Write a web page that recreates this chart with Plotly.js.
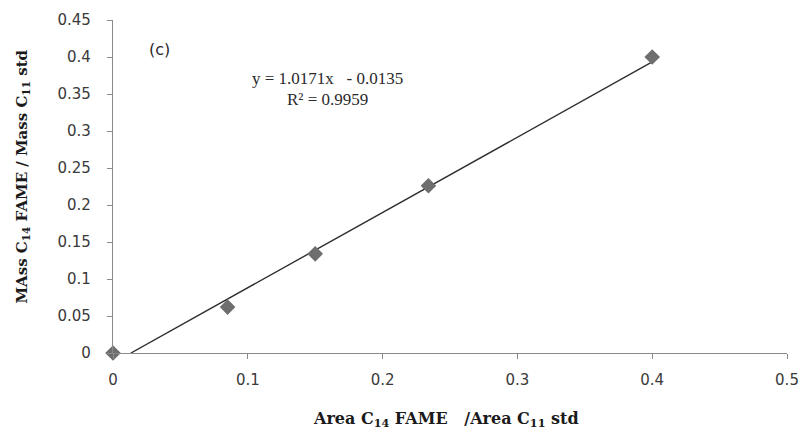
<!DOCTYPE html>
<html>
<head>
<meta charset="utf-8">
<script src="https://cdn.plot.ly/plotly-3.0.1.min.js"></script>
<style>html,body{margin:0;padding:0;background:#fff;}#chart{width:805px;height:435px;}</style>
</head>
<body>
<div id="chart"></div>
<script>
// Data
const areaRatio = [0, 0.085, 0.15, 0.234, 0.4];
const massRatio = [0, 0.062, 0.134, 0.226, 0.4];
// Linear trendline end points (y = 1.0171x - 0.0135)
const trendX = [0.0133, 0.4];
const trendY = [0, 0.3933];
const xTicks = [0, 0.1, 0.2, 0.3, 0.4, 0.5];
const xTickText = ['0', '0.1', '0.2', '0.3', '0.4', '0.5'];
const yTicks = [0, 0.05, 0.1, 0.15, 0.2, 0.25, 0.3, 0.35, 0.4, 0.45];
const yTickText = ['0', '0.05', '0.1', '0.15', '0.2', '0.25', '0.3', '0.35', '0.4', '0.45'];

const traces = [
  {
    x: trendX, y: trendY, mode: 'lines', type: 'scatter',
    line: {color: '#2e2e2e', width: 1.4}, hoverinfo: 'skip', showlegend: false
  },
  {
    x: areaRatio, y: massRatio, mode: 'markers', type: 'scatter',
    marker: {symbol: 'diamond', size: 12, color: '#6e6e6e', line: {width: 0}},
    cliponaxis: false, showlegend: false
  }
];

const layout = {
  width: 805, height: 435,
  margin: {l: 113, r: 18, t: 20, b: 82},
  paper_bgcolor: '#ffffff', plot_bgcolor: '#ffffff',
  font: {family: 'DejaVu Sans, Verdana, sans-serif', color: '#3a3a3a', size: 15},
  xaxis: {
    range: [0, 0.5], tickvals: xTicks, ticktext: xTickText,
    showgrid: false, zeroline: false,
    showline: true, linecolor: '#8a8a8a', linewidth: 1.2,
    ticks: 'outside', ticklen: 5, tickcolor: '#8a8a8a',
    ticklabelstandoff: 8,
    tickfont: {size: 15, color: '#3a3a3a'},
    title: {text: ''}
  },
  yaxis: {
    range: [0, 0.45], tickvals: yTicks, ticktext: yTickText,
    showgrid: false, zeroline: false,
    showline: true, linecolor: '#8a8a8a', linewidth: 1.2,
    ticks: 'outside', ticklen: 5, tickcolor: '#8a8a8a',
    ticklabelstandoff: 13,
    tickfont: {size: 15, color: '#3a3a3a'},
    title: {text: ''}
  },
  annotations: [
    {
      text: '(c)', xref: 'paper', yref: 'paper', x: 0.05, y: 0.91,
      xanchor: 'left', yanchor: 'middle', showarrow: false,
      font: {family: 'DejaVu Sans, sans-serif', size: 16, color: '#2a2a2a'}
    },
    {
      text: 'y = 1.0171x   - 0.0135', xref: 'paper', yref: 'paper', x: 0.318, y: 0.823,
      xanchor: 'center', yanchor: 'middle', showarrow: false,
      font: {family: 'Liberation Serif, Times New Roman, serif', size: 17, color: '#2a2a2a'}
    },
    {
      text: 'R\u00B2 = 0.9959', xref: 'paper', yref: 'paper', x: 0.318, y: 0.760,
      xanchor: 'center', yanchor: 'middle', showarrow: false,
      font: {family: 'Liberation Serif, Times New Roman, serif', size: 17, color: '#2a2a2a'}
    },
    {
      text: '<b>Area C<sub>14</sub> FAME   /Area C<sub>11</sub> std</b>',
      xref: 'paper', yref: 'paper', x: 0.494, y: -0.2,
      xanchor: 'center', yanchor: 'middle', showarrow: false,
      font: {family: 'DejaVu Serif, Liberation Serif, serif', size: 16, color: '#1a1a1a'}
    },
    {
      text: '<b>MAss C<sub>14</sub> FAME / Mass C<sub>11</sub> std</b>',
      xref: 'paper', yref: 'paper', x: -0.135, y: 0.53, textangle: -90,
      xanchor: 'center', yanchor: 'middle', showarrow: false,
      font: {family: 'DejaVu Serif, Liberation Serif, serif', size: 15, color: '#1a1a1a'}
    }
  ]
};

Plotly.newPlot('chart', traces, layout, {displayModeBar: false, staticPlot: true});
</script>
</body>
</html>
